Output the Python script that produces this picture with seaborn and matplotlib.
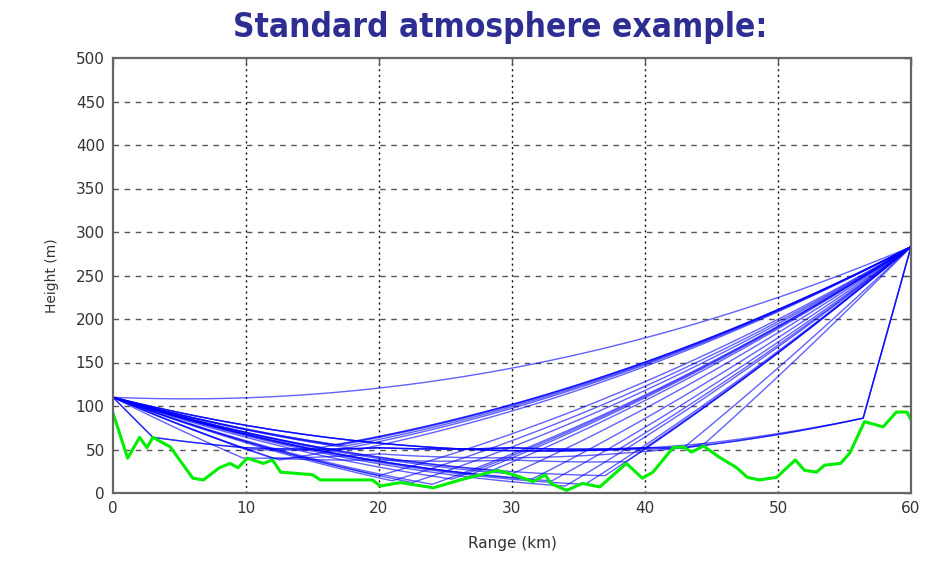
import numpy as np
import pandas as pd
import matplotlib
matplotlib.use("Agg")
import matplotlib.pyplot as plt
import seaborn as sns

# ---------------- data ----------------
terrain_x = [0, 1.1, 2.0, 2.55, 3.0, 4.3, 6.0, 6.8, 8.0, 8.8, 9.4, 10.1, 11.3, 12.0, 12.6,
             15.0, 15.6, 19.5, 20.1, 21.6, 24.1, 26.1, 28.9, 30.1, 31.6, 32.5, 32.9, 34.1,
             35.3, 36.6, 38.6, 39.8, 40.6, 42.1, 42.9, 43.5, 44.4, 45.6, 46.9, 47.7, 48.6,
             49.9, 51.3, 52.0, 52.9, 53.5, 54.7, 55.4, 56.5, 57.9, 58.9, 59.7, 60]
terrain_h = [92, 40, 64, 52, 64, 53, 17, 15, 29, 34, 29, 40, 34, 38, 24,
             21, 15, 15, 8, 12, 6, 15, 26, 21, 13, 21, 11, 3,
             11, 7, 34, 17, 24, 52, 53, 47, 54, 41, 29, 18, 15,
             18, 38, 26, 24, 32, 34, 46, 82, 76, 93, 93, 84]

tx_x, tx_h = 0.0, 110.0      # transmitter
rx_x, rx_h = 60.0, 283.0     # receiver

# single-bounce reflection points
bounce_x = [12.5, 15.5, 16.5, 17.0, 17.5, 18.5, 20.0, 21.0, 22.5, 24.0, 25.5,
            27.0, 28.5, 30.0, 31.5, 33.0, 34.0, 35.5, 37.0, 38.0, 40.0, 44.5]
bounce_h = [38, 52, 55, 55, 54, 50, 20, 14, 12, 10, 16,
            22, 26, 22, 16, 14, 8, 10, 20, 50, 52, 57]

# multi-bounce / grazing paths
graze1_x = [0, 3.0, 10, 20, 30, 40, 42.9, 56.4, 60]
graze1_h = [110, 64, 52, 52, 52, 52, 52, 86, 283]
graze2_x = [0, 10, 20, 30, 42.9, 44.5, 56.4, 60]
graze2_h = [110, 50, 52, 52, 52, 57, 86, 283]
graze3_x = [0, 12, 20, 30, 38.6, 60]
graze3_h = [110, 40, 38, 38, 36, 283]
graze4_x = [0, 9.8, 20, 42.9, 60]
graze4_h = [110, 40, 45, 52, 283]

x_ticks = [0, 10, 20, 30, 40, 50, 60]
y_ticks = [0, 50, 100, 150, 200, 250, 300, 350, 400, 450, 500]

# ---------------- ray geometry (4/3-earth curvature) ----------------
K = 1000.0 / (2 * 8500.0)   # m per km^2


def ray_points(xs, hs, n=60):
    px, ph = [], []
    for (x1, h1), (x2, h2) in zip(zip(xs[:-1], hs[:-1]), zip(xs[1:], hs[1:])):
        xx = np.linspace(x1, x2, n)
        hh = h1 + (h2 - h1) * (xx - x1) / (x2 - x1) - K * (xx - x1) * (x2 - xx)
        px.extend(xx)
        ph.extend(hh)
    return px, ph


paths = [([tx_x, rx_x], [tx_h, rx_h])]
for bx, bh in zip(bounce_x, bounce_h):
    paths.append(([tx_x, bx, rx_x], [tx_h, bh, rx_h]))
for gx, gh in [(graze1_x, graze1_h), (graze1_x, graze1_h), (graze2_x, graze2_h),
               (graze3_x, graze3_h), (graze4_x, graze4_h)]:
    paths.append((gx, gh))

rows = []
for i, (xs, hs) in enumerate(paths):
    px, ph = ray_points(xs, hs)
    rows.append(pd.DataFrame({"x": px, "h": ph, "ray": i}))
rays = pd.concat(rows, ignore_index=True)
terrain = pd.DataFrame({"x": terrain_x, "h": terrain_h})

# ---------------- plot ----------------
sns.set_theme(style="white")
plt.rcParams['font.family'] = ['DejaVu Sans']

fig = plt.figure(figsize=(9.26, 5.61), dpi=100)
ax = fig.add_axes([113 / 926, 1 - 493 / 561, (911 - 113) / 926, (493 - 58) / 561])

sns.lineplot(data=rays, x="x", y="h", units="ray", estimator=None, sort=False,
             color="#0000ff", alpha=0.62, lw=1.0, ax=ax, legend=False)
sns.lineplot(data=terrain, x="x", y="h", estimator=None, sort=False,
             color="#00ee00", lw=2.2, ax=ax, legend=False)

ax.set_xlim(0, 60)
ax.set_ylim(0, 500)
ax.set_xticks(x_ticks)
ax.set_yticks(y_ticks)
ax.set_xticklabels([str(t) for t in x_ticks])
ax.set_yticklabels([str(t) for t in y_ticks])

for xv in x_ticks[1:-1]:
    ax.axvline(xv, color="#111111", lw=1.0, ls=(0, (1.5, 2.5)), zorder=0)
for yv in y_ticks[1:-1]:
    ax.axhline(yv, color="#555555", lw=1.0, ls=(0, (4, 4)), zorder=0)

ax.tick_params(direction="in", length=5, width=1, top=True, right=True,
               labelsize=11, labelcolor="#333333", color="#555555", pad=6)
for s in ax.spines.values():
    s.set_color("#666666")
    s.set_linewidth(1.6)

ax.set_xlabel("Range (km)", fontsize=11, color="#333333", labelpad=14)
ax.set_ylabel("Height (m)", fontsize=10, color="#333333", labelpad=12)

fig.text(500 / 926, 1 - 27 / 561, "Standard atmosphere example:",
         ha="center", va="center", fontsize=24, fontweight="bold",
         fontstretch="condensed", color="#2e2e92",
         family=["DejaVu Sans"])

fig.savefig("out.png", dpi=100)
